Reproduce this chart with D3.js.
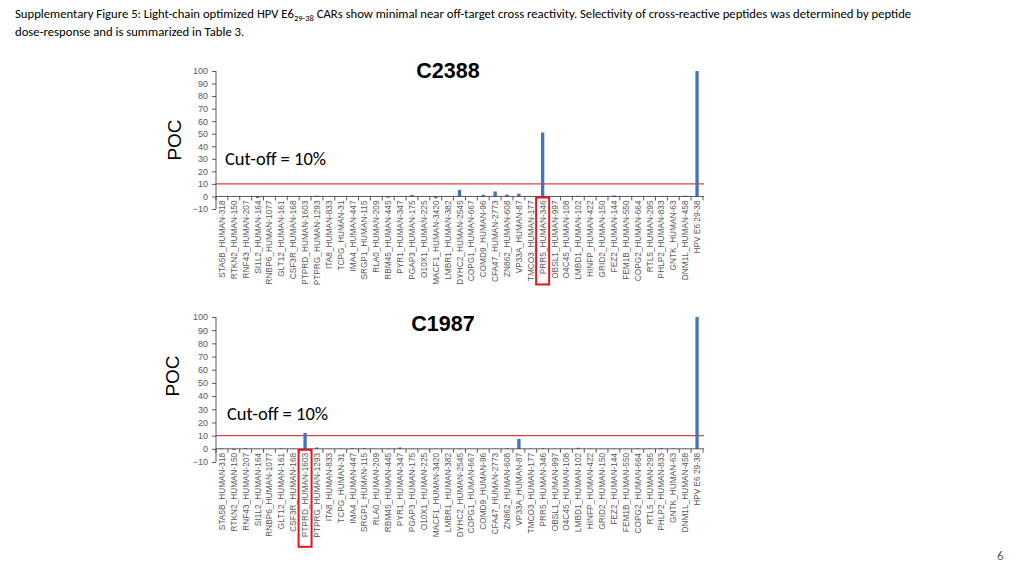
<!DOCTYPE html>
<html><head><meta charset="utf-8">
<script src="https://cdn.jsdelivr.net/npm/d3@7"></script>
<style>
body{margin:0;background:#fff;}
svg{display:block;}
</style></head>
<body><svg id="c" width="1024" height="576"></svg>
<script>
const categories = ["STA5B_HUMAN-318","RTKN2_HUMAN-150","RNF43_HUMAN-207","SI1L2_HUMAN-164","RNBP6_HUMAN-1077","GLT12_HUMAN-161","CSF3R_HUMAN-168","PTPRD_HUMAN-1603","PTPRG_HUMAN-1293","ITA8_HUMAN-833","TCPG_HUMAN-31","IMA4_HUMAN-447","SRGP1_HUMAN-115","RLA0_HUMAN-209","RBM45_HUMAN-445","PYR1_HUMAN-347","PGAP3_HUMAN-175","O10X1_HUMAN-225","MACF1_HUMAN-3420","LMBR1_HUMAN-382","DYHC2_HUMAN-2545","COPG1_HUMAN-667","COMD9_HUMAN-96","CFA47_HUMAN-2773","ZN862_HUMAN-608","VP33A_HUMAN-87","TMCO3_HUMAN-177","PRR5_HUMAN-346","OBSL1_HUMAN-997","O4C45_HUMAN-108","LMBD1_HUMAN-102","HINFP_HUMAN-422","GRID2_HUMAN-150","FEZ2_HUMAN-144","FEM1B_HUMAN-550","COPG2_HUMAN-664","RTL5_HUMAN-295","PHLP2_HUMAN-833","GNTK_HUMAN-63","DNM1L_HUMAN-458","HPV E6 29-38"];
const valuesC2388 = [0.2,0.1,0.2,-1.2,0.1,0.1,0.2,0.2,0.6,0.1,0.1,0.1,0.1,0.1,-1.0,0.2,1.2,0.3,-1.5,0.3,5.2,0.2,1.3,4.0,1.5,2.2,0.3,51,0.2,0.2,0.5,0.2,0.2,0.8,0.2,0.2,0.2,0.3,0.2,0.6,100];
const valuesC1987 = [0.4,-0.8,0.6,0.1,0.1,0.5,0.2,12,1.0,0.2,0.2,0.5,0.5,0.1,0.3,1.0,0.2,0.1,0.2,0.2,0.3,0.1,0.2,0.2,0.4,7.5,0.2,0.5,0.2,0.2,0.8,0.2,0.2,0.2,0.2,0.4,0.2,0.6,0.3,0.2,100];
const yTicks = [-10,0,10,20,30,40,50,60,70,80,90,100];
const cutoff = 10;
const charts = [
  {title:"C2388", values:valuesC2388, highlight:"PRR5_HUMAN-346", yBottom:209, yTop:71, titleX:448, titleY:78, pocX:181, pocY:140, cutX:225, cutY:165},
  {title:"C1987", values:valuesC1987, highlight:"PTPRD_HUMAN-1603", yBottom:462, yTop:317, titleX:443, titleY:331, pocX:179, pocY:376, cutX:227, cutY:420}
];
const svg = d3.select("#c");
const fontBody = "Carlito, Lato, 'Open Sans', sans-serif";

// header
const h = svg.append("text").attr("x",15).attr("y",18).attr("font-family",fontBody).attr("font-size",12.7).attr("fill","#000");
h.append("tspan").text("Supplementary Figure 5: Light-chain optimized HPV E6");
h.append("tspan").attr("font-size",8.5).attr("dy",3).text("29-38");
h.append("tspan").attr("dy",-3).text(" CARs show minimal near off-target cross reactivity. Selectivity of cross-reactive peptides was determined by peptide");
svg.append("text").attr("x",15).attr("y",36).attr("font-family",fontBody).attr("font-size",12.7).text("dose-response and is summarized in Table 3.");
svg.append("text").attr("x",997).attr("y",560).attr("font-family",fontBody).attr("font-size",13).attr("fill","#666").text("6");

const x = d3.scaleBand().domain(categories).range([216,703]).paddingInner(0.72).paddingOuter(0.36);
const step = x.step();

charts.forEach(c=>{
  const g = svg.append("g");
  const y = d3.scaleLinear().domain([-10,100]).range([c.yBottom,c.yTop]);
  // y axis
  const ya = g.append("g").attr("transform","translate(216,0)").call(d3.axisLeft(y).tickValues(yTicks).tickSize(4).tickPadding(4));
  ya.selectAll("path,line").attr("stroke","#333").attr("stroke-width",0.8);
  ya.select(".domain").attr("d",`M-0,${y(-10)}V${y(100)}`);
  ya.selectAll("text").attr("font-family","'Liberation Sans', Arial, sans-serif").attr("font-size",9).attr("fill","#595959");
  // cutoff line
  g.append("line").attr("x1",216).attr("x2",704).attr("y1",y(cutoff)).attr("y2",y(cutoff)).attr("stroke","#e0403f").attr("stroke-width",1.1);
  // bars
  g.selectAll("rect.bar").data(c.values).join("rect").attr("class","bar")
    .attr("x",(d,i)=>x(categories[i])).attr("width",x.bandwidth())
    .attr("y",d=>y(Math.max(0,d))).attr("height",d=>Math.abs(y(d)-y(0)))
    .attr("fill","#4472C4");
  // x axis at zero
  const y0 = y(0);
  g.append("line").attr("x1",216).attr("x2",704).attr("y1",y0).attr("y2",y0).attr("stroke","#333").attr("stroke-width",0.8);
  const bounds = d3.range(categories.length+1).map(i=>216+i*step);
  g.selectAll("line.tk").data(bounds).join("line").attr("class","tk")
    .attr("x1",d=>d).attr("x2",d=>d).attr("y1",y0).attr("y2",y0+4).attr("stroke","#333").attr("stroke-width",0.8);
  g.selectAll("text.xl").data(categories).join("text").attr("class","xl")
    .attr("transform",d=>`translate(${x(d)+x.bandwidth()/2+3},${y0+4}) rotate(-90)`)
    .attr("text-anchor","end").attr("font-family","'Liberation Sans', Arial, sans-serif").attr("font-size",8.3).attr("fill","#595959")
    .text(d=>d);
  // highlight box
  const hx = x(c.highlight)+x.bandwidth()/2;
  g.append("rect").attr("x",hx-6.5).attr("y",y0+1).attr("width",13).attr("height",c.highlight.length>15?97:87)
    .attr("fill","none").attr("stroke","#e8141c").attr("stroke-width",2);
  // title
  g.append("text").attr("x",c.titleX).attr("y",c.titleY).attr("text-anchor","middle")
    .attr("font-family","'Liberation Sans', Arial, sans-serif").attr("font-weight","bold").attr("font-size",21.5).text(c.title);
  g.append("text").attr("transform",`translate(${c.pocX},${c.pocY}) rotate(-90)`).attr("text-anchor","middle")
    .attr("font-family","'Liberation Sans', Arial, sans-serif").attr("font-size",19).text("POC");
  g.append("text").attr("x",c.cutX).attr("y",c.cutY).attr("font-family",fontBody).attr("font-size",18.5).text("Cut-off = "+cutoff+"%");
});
</script></body></html>
